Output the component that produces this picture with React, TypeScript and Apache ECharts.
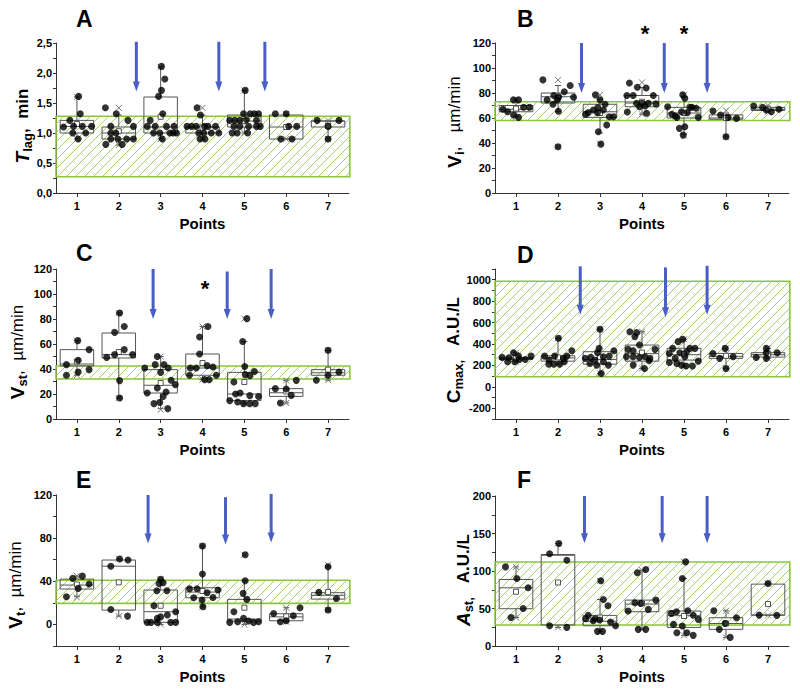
import React, { useEffect, useRef } from "react";
import * as echarts from "echarts";

const FONT = "'Liberation Sans', Arial, Helvetica, sans-serif";

// Sampling points on the x axis
const pointLabels = [1, 2, 3, 4, 5, 6, 7];

// Box statistics per sampling point:
// [q1, median, q3, mean, whiskerLow, whiskerHigh, min, max]
const tLagBoxes = [
  [1.0, 1.11, 1.21, 1.15, 0.9, 1.6, 0.9, 1.6],
  [0.9, 1.0, 1.1, 1.03, 0.8, 1.3, 0.8, 1.42],
  [1.0, 1.1, 1.6, 1.27, 0.9, 2.1, 0.9, 2.1],
  [1.0, 1.1, 1.1, 1.09, 0.9, 1.3, 0.9, 1.42],
  [1.1, 1.2, 1.3, 1.2, 1.0, 1.71, 1.0, 1.71],
  [0.9, 1.1, 1.3, 1.1, 0.9, 1.3, 0.9, 1.32],
  [1.1, 1.2, 1.2, 1.12, 0.9, 1.2, 0.9, 1.21],
];
const vIBoxes = [
  [65, 67, 70, 67.5, 61, 74.5, 60.5, 74.5],
  [72, 77, 80, 76, 65, 86, 37, 90.5],
  [60.5, 65, 71, 64, 48, 75, 39.5, 78.5],
  [69, 72, 78, 73, 63, 84.5, 63, 88.5],
  [60, 64, 68.5, 64, 47, 77, 46, 78.5],
  [59, 60, 62.5, 60, 45, 64, 45, 66],
  [66, 67, 68.5, 67, 65, 69.6, 65, 70],
];
const vStBoxes = [
  [42.5, 44, 55.5, 46, 35, 62.7, 35, 62.7],
  [48.8, 51.5, 68.8, 53.6, 16.8, 84.8, 16.8, 84.8],
  [20.8, 27, 39.5, 28.8, 8.3, 50, 7.5, 50],
  [35, 40.8, 52, 44.8, 31.5, 74, 31.5, 74],
  [14.7, 20, 37.3, 29.6, 12.3, 62, 12.3, 80.3],
  [18.1, 21, 24.3, 22, 12.8, 30.9, 12.8, 30.9],
  [35, 37, 39.5, 39.5, 31, 55, 31, 55],
];
const cMaxBoxes = [
  [256, 265, 275, 268, 234, 319, 234, 319],
  [240, 270, 290, 275, 212, 453, 212, 453],
  [212, 255, 328, 280, 125, 537, 125, 537],
  [240, 310, 390, 320, 172, 515, 172, 515],
  [250, 300, 360, 305, 194, 444, 194, 444],
  [266, 285, 312, 290, 172, 359, 172, 359],
  [278, 300, 319, 305, 266, 359, 266, 359],
];
const vTBoxes = [
  [32.8, 36.5, 42, 37, 25.7, 44.8, 25, 45],
  [13.3, 54, 59.7, 39, 7.7, 60.6, 7.7, 61],
  [1.9, 11.8, 31.9, 17.3, 0, 41.8, 0, 41.8],
  [24.7, 30, 34, 31, 16.4, 72.7, 16.4, 72.7],
  [3, 5, 23.2, 15.5, 0, 40.5, 0, 64.6],
  [3.4, 7, 9.9, 7.5, 2.5, 15.5, 2.5, 15.5],
  [23.5, 27, 29.4, 30, 13.3, 53.5, 13.3, 55],
];
const aStBoxes = [
  [49.7, 77.6, 88.7, 72.3, 38, 105.5, 38, 105.5],
  [28, 121, 122, 84.7, 24.8, 136.6, 24.8, 136.6],
  [27, 33, 40.8, 38, 19.5, 62, 19.5, 86.9],
  [45.7, 55.9, 61.2, 57, 22.2, 101, 22.2, 101],
  [24.8, 40.4, 46.6, 40, 14.2, 90, 14.2, 112.2],
  [22.2, 30, 37.7, 30, 11.5, 47, 11.5, 47],
  [41.2, 41.2, 82.5, 55.9, 40.8, 83.4, 40.8, 83.4],
];

// Individual measurements: [point, horizontal jitter, value]
const tLagPoints = [
  [1, -0.32, 1.1], [1, -0.17, 1.21], [1, 0.04, 1.61], [1, 0.08, 1.32], [1, -0.08, 1.11], [1, 0.13, 1.11], [1, 0.35, 1.11], [1, 0.21, 1.0], [1, 0.03, 0.9], [1, -0.1, 1.0],
  [2, -0.32, 1.42], [2, -0.06, 1.32], [2, 0.22, 1.21], [2, 0.35, 1.11], [2, -0.19, 1.11], [2, -0.31, 0.81], [2, -0.19, 1.0], [2, -0.07, 1.0], [2, 0.08, 0.81], [2, -0.19, 0.9], [2, -0.02, 0.9], [2, 0.19, 0.9], [2, 0.35, 0.9],
  [3, 0.02, 2.11], [3, 0.1, 1.9], [3, 0.02, 1.71], [3, -0.05, 1.61], [3, 0.05, 1.32], [3, -0.25, 1.21], [3, -0.32, 1.11], [3, -0.13, 1.11], [3, 0.14, 1.11], [3, 0.32, 1.11], [3, -0.17, 1.0], [3, -0.02, 1.0], [3, 0.22, 1.0], [3, 0.38, 1.0], [3, 0.04, 0.9], [3, 0.3, 1.0],
  [4, -0.13, 1.42], [4, -0.05, 1.3], [4, -0.37, 1.11], [4, -0.26, 1.11], [4, -0.15, 1.11], [4, 0.05, 1.11], [4, 0.13, 1.11], [4, 0.31, 1.11], [4, 0.03, 1.0], [4, 0.21, 1.0], [4, 0.39, 1.0], [4, -0.06, 0.9], [4, 0.06, 0.9], [4, -0.09, 1.0],
  [5, 0.02, 1.71], [5, -0.35, 1.21], [5, -0.23, 1.21], [5, -0.11, 1.21], [5, 0.05, 1.22], [5, -0.02, 1.32], [5, 0.14, 1.32], [5, 0.24, 1.32], [5, 0.34, 1.32], [5, -0.25, 1.11], [5, -0.11, 1.11], [5, 0.1, 1.11], [5, 0.29, 1.11], [5, 0.38, 1.11], [5, -0.29, 1.0], [5, -0.17, 1.0], [5, 0.08, 1.0], [5, 0.29, 1.21],
  [6, -0.26, 1.32], [6, 0, 1.32], [6, 0.06, 1.11], [6, 0.25, 1.11], [6, -0.13, 0.9], [6, 0.14, 0.9],
  [7, -0.26, 1.21], [7, 0.26, 1.21], [7, 0, 1.11], [7, 0, 0.9],
];
const vIPoints = [
  [1, -0.31, 67], [1, -0.2, 65], [1, -0.06, 74.5], [1, 0.06, 74.5], [1, -0.06, 62.4], [1, 0.06, 60.5], [1, 0.18, 68.6], [1, 0.32, 68.6],
  [2, -0.36, 90.5], [2, -0.26, 74.5], [2, -0.1, 78], [2, 0.02, 77], [2, 0.15, 81], [2, 0.29, 86], [2, 0.37, 76.6], [2, -0.02, 74.5], [2, -0.12, 71], [2, 0.01, 65.4], [2, 0, 37],
  [3, -0.34, 63], [3, -0.28, 64.3], [3, -0.16, 66.4], [3, -0.05, 68.3], [3, -0.11, 78.5], [3, 0, 74.5], [3, 0.08, 66.4], [3, 0.12, 71], [3, 0.22, 61], [3, 0.32, 61], [3, -0.04, 49], [3, 0.16, 54.4], [3, 0.02, 39.1], [3, -0.06, 64.3],
  [4, -0.3, 88], [4, -0.11, 84.6], [4, -0.36, 78], [4, -0.21, 78], [4, 0.27, 78], [4, 0.1, 84], [4, 0, 71.8], [4, -0.13, 71.8], [4, 0.15, 71.8], [4, 0.33, 71.3], [4, 0.07, 69.6], [4, 0.11, 63.8], [4, -0.06, 69], [4, -0.35, 64.8],
  [5, -0.39, 69], [5, -0.29, 63], [5, -0.17, 60.5], [5, -0.03, 78.5], [5, 0.02, 75.8], [5, -0.06, 65], [5, 0.08, 64.3], [5, 0.19, 68.6], [5, 0.29, 67.8], [5, 0.34, 60.5], [5, -0.11, 51.7], [5, 0.02, 53], [5, -0.02, 46.3], [5, -0.21, 61.6], [5, 0.14, 68.6],
  [6, -0.31, 65.6], [6, -0.13, 62.4], [6, 0.05, 60.5], [6, 0.25, 59.7], [6, 0, 45],
  [7, -0.34, 69.6], [7, -0.13, 68.6], [7, -0.04, 66.4], [7, 0.08, 65], [7, 0.26, 67],
];
const vStPoints = [
  [1, -0.25, 43.5], [1, 0.02, 62.7], [1, 0.29, 55.5], [1, 0.03, 47], [1, -0.25, 35], [1, 0.03, 37.6], [1, 0.29, 39.5],
  [2, 0.02, 84.8], [2, 0.13, 74], [2, -0.1, 69.3], [2, -0.1, 51.5], [2, 0.13, 55.5], [2, -0.29, 49.3], [2, 0.33, 51.5], [2, 0.02, 30.7], [2, 0.02, 16.8],
  [3, -0.08, 50], [3, -0.38, 40.8], [3, -0.13, 43.5], [3, 0.08, 43.5], [3, 0.18, 40.8], [3, 0, 37.3], [3, -0.32, 20.8], [3, -0.08, 24.8], [3, 0.13, 21.6], [3, 0.06, 18], [3, 0.25, 31], [3, 0.35, 27.5], [3, -0.16, 12.3], [3, -0.02, 13.3], [3, 0.17, 8.3],
  [4, 0.13, 74], [4, -0.07, 65.6], [4, -0.07, 52], [4, -0.29, 40.8], [4, -0.15, 40.8], [4, 0.11, 42.7], [4, 0.25, 41.6], [4, -0.31, 35], [4, 0.33, 35], [4, 0.05, 31.5], [4, 0.16, 31.5],
  [5, 0.06, 80.3], [5, -0.04, 62], [5, 0.01, 42], [5, 0.02, 35.5], [5, 0.13, 34.7], [5, 0.24, 38], [5, -0.25, 29.6], [5, -0.21, 20], [5, -0.35, 14.7], [5, -0.1, 20.8], [5, 0.13, 18.7], [5, 0.34, 18], [5, -0.16, 13.6], [5, -0.02, 12.3], [5, 0.13, 12.3], [5, 0.26, 12.3],
  [6, -0.26, 24.3], [6, 0, 24], [6, 0.24, 30.9], [6, 0.12, 18.9], [6, -0.14, 12.8],
  [7, 0, 55], [7, -0.28, 31], [7, 0, 35], [7, 0.26, 37.6],
];
const cMaxPoints = [
  [1, -0.33, 275], [1, -0.17, 272], [1, -0.06, 319], [1, -0.03, 234], [1, 0.08, 256], [1, 0.06, 287], [1, 0.22, 256], [1, 0.36, 287], [1, -0.2, 234],
  [2, -0.32, 287], [2, -0.21, 250], [2, -0.08, 287], [2, 0.01, 453], [2, 0.13, 266], [2, 0.21, 287], [2, 0.33, 337], [2, -0.22, 212], [2, -0.1, 212], [2, 0.04, 212], [2, 0.15, 234],
  [3, 0, 537], [3, -0.02, 359], [3, -0.06, 319], [3, -0.35, 266], [3, -0.22, 275], [3, -0.12, 250], [3, 0.08, 281], [3, 0.22, 287], [3, 0.33, 337], [3, -0.24, 219], [3, -0.08, 203], [3, 0.08, 234], [3, 0.2, 203], [3, 0.03, 125],
  [4, -0.29, 515], [4, -0.13, 506], [4, -0.17, 469], [4, -0.21, 337], [4, -0.33, 350], [4, -0.06, 390], [4, -0.37, 281], [4, -0.21, 281], [4, -0.06, 275], [4, 0.07, 281], [4, 0.19, 266], [4, 0.31, 350], [4, -0.21, 203], [4, 0.17, 244], [4, 0.06, 172],
  [5, -0.27, 359], [5, -0.14, 422], [5, -0.03, 444], [5, -0.35, 312], [5, -0.1, 319], [5, 0.02, 281], [5, 0.14, 359], [5, 0.26, 359], [5, -0.21, 266], [5, 0.06, 328], [5, -0.35, 228], [5, -0.06, 203], [5, 0.05, 194], [5, 0.2, 194], [5, 0.34, 240], [5, -0.17, 219],
  [6, -0.31, 312], [6, -0.02, 359], [6, -0.15, 266], [6, 0.17, 281], [6, 0, 172],
  [7, -0.28, 275], [7, -0.04, 359], [7, -0.04, 319], [7, -0.04, 266], [7, 0.22, 319],
];
const vTPoints = [
  [1, -0.25, 25.7], [1, -0.1, 42.7], [1, 0.13, 44.8], [1, 0.03, 33.4], [1, 0.29, 37.4],
  [2, -0.19, 54], [2, 0.02, 60.6], [2, 0.22, 59.7], [2, -0.19, 13.9], [2, 0.21, 7.7],
  [3, 0, 41.8], [3, -0.04, 38], [3, 0.06, 38.7], [3, -0.09, 31.2], [3, 0.15, 31.2], [3, -0.16, 17.3], [3, 0.36, 11.8], [3, 0.16, 8.7], [3, 0, 7], [3, -0.08, 5.6], [3, -0.32, 1.9], [3, -0.23, 1.9], [3, 0.24, 1.9], [3, 0.36, 1.9], [3, -0.08, 1.9],
  [4, 0, 72.7], [4, 0, 46.7], [4, -0.31, 33], [4, -0.13, 33], [4, -0.21, 24.7], [4, -0.01, 22.6], [4, 0.11, 29.4], [4, 0.25, 25], [4, 0.37, 31.9], [4, 0.01, 16.4],
  [5, 0.02, 64.6], [5, 0.02, 40.5], [5, -0.03, 28.8], [5, 0.06, 23.2], [5, -0.25, 11.8], [5, -0.35, 1.9], [5, -0.16, 2.5], [5, -0.02, 5.6], [5, 0.1, 3.1], [5, 0.22, 1.9], [5, 0.34, 2.5],
  [6, -0.3, 10.2], [6, -0.14, 2.5], [6, 0, 3.4], [6, 0.17, 8], [6, 0.33, 15.5],
  [7, 0, 53.5], [7, -0.22, 29.7], [7, 0.2, 24.1], [7, 0, 13.3],
];
const aStPoints = [
  [1, -0.25, 105.5], [1, 0.02, 90], [1, 0.29, 77.6], [1, 0.17, 50], [1, -0.12, 38],
  [2, -0.2, 123], [2, 0.02, 136.6], [2, 0.21, 114.4], [2, -0.2, 27], [2, 0.21, 24.8],
  [3, 0.02, 86.9], [3, 0.08, 62], [3, 0.19, 53.7], [3, -0.34, 36.4], [3, -0.28, 40.8], [3, -0.16, 33.7], [3, -0.01, 34.6], [3, -0.12, 36.4], [3, 0.25, 32], [3, 0.37, 27], [3, -0.06, 19.5], [3, 0.06, 19.5],
  [4, -0.11, 97.6], [4, 0.09, 102], [4, -0.33, 46.6], [4, -0.17, 57.6], [4, -0.03, 56.8], [4, 0.15, 48.8], [4, 0.33, 61.2], [4, -0.09, 22.2], [4, 0.09, 22.2],
  [5, 0.04, 112.2], [5, -0.04, 90], [5, -0.3, 43.5], [5, -0.18, 45.7], [5, 0.09, 47], [5, 0.22, 41], [5, 0.34, 35.5], [5, -0.25, 28.8], [5, -0.04, 26.6], [5, -0.17, 17.7], [5, 0.07, 17.7], [5, 0.22, 14.2],
  [6, -0.29, 47], [6, -0.02, 30.2], [6, -0.16, 22.2], [6, 0.25, 37.7], [6, 0.1, 11.5],
  [7, 0, 83.4], [7, -0.21, 41.2], [7, 0.21, 40.8],
];

// Reference (normal) ranges: [low, high]
const tLagNorm = [0.27, 1.28];
const vINorm = [58, 73];
const vStNorm = [32, 42.4];
const cMaxNorm = [95, 985];
const vTNorm = [19.5, 41];
const aStNorm = [28, 112];

// Intervention arrows: [x, top value, tip value]
const tLagArrows = [[2.42, 2.52, 1.69], [4.39, 2.52, 1.69], [5.49, 2.52, 1.69]];
const vIArrows = [[2.56, 120, 80], [4.53, 120, 80], [5.55, 120, 80]];
const vStArrows = [[2.82, 120, 80], [4.59, 118, 80], [5.64, 120, 80]];
const cMaxArrows = [[2.53, 1125, 672], [4.56, 1115, 650], [5.55, 1130, 672]];
const vTArrows = [[2.7, 120, 75], [4.55, 118, 74], [5.64, 121, 76]];
const aStArrows = [[2.63, 200, 137], [4.48, 200, 137], [5.55, 200, 137]];

// Significance marks: [x, value]
const vIStars = [[4.07, 129], [5.0, 129]];
const vStStars = [[4.06, 106]];

const BOX_COLOR = "#555";
const HATCH_COLOR = "#a3d06a";
const BORDER_COLOR = "#8cc63f";
const ARROW_COLOR = "#4a5ec6";

const main = (italic: boolean) => ({ fontSize: 19, fontWeight: "bold", fontStyle: italic ? "italic" : "normal", fontFamily: FONT, fill: "#000" });
const sub = { fontSize: 13, fontWeight: "bold", fontFamily: FONT, fill: "#000", verticalAlign: "bottom", padding: [10, 0, 0, 0] };
const unit = (bold: boolean) => ({ fontSize: 17, fontWeight: bold ? "bold" : "normal", fontFamily: FONT, fill: "#000" });

const panels = [
  {
    letter: "A", boxes: tLagBoxes, points: tLagPoints, norm: tLagNorm, arrows: tLagArrows, stars: [],
    min: 0, max: 2.5, step: 0.5, comma: true,
    grid: { left: 56, top: 43, width: 293, height: 150 }, title: { left: 76, top: 7 },
    name: "{m|T}{s|lag}{u|,  min}", rich: { m: main(true), s: sub, u: unit(true) }, nameAt: [22, 126],
  },
  {
    letter: "B", boxes: vIBoxes, points: vIPoints, norm: vINorm, arrows: vIArrows, stars: vIStars,
    min: 0, max: 120, step: 20,
    grid: { left: 495, top: 43, width: 294, height: 150 }, title: { left: 517, top: 7 },
    name: "{m|V}{s|i}{u|,   µm/min}", rich: { m: main(false), s: sub, u: unit(false) }, nameAt: [454, 122],
  },
  {
    letter: "C", boxes: vStBoxes, points: vStPoints, norm: vStNorm, arrows: vStArrows, stars: vStStars,
    min: 0, max: 120, step: 20,
    grid: { left: 56, top: 269, width: 293, height: 150 }, title: { left: 76, top: 241 },
    name: "{m|V}{s|st}{u|,  µm/min}", rich: { m: main(false), s: sub, u: unit(false) }, nameAt: [17, 352],
  },
  {
    letter: "D", boxes: cMaxBoxes, points: cMaxPoints, norm: cMaxNorm, arrows: cMaxArrows, stars: [],
    min: -300, max: 1100, step: 200,
    grid: { left: 495, top: 269, width: 294, height: 150 }, title: { left: 517, top: 243 },
    name: "{m|C}{s|max,}{u|   A.U./L}", rich: { m: main(false), s: sub, u: unit(true) }, nameAt: [453, 350],
  },
  {
    letter: "E", boxes: vTBoxes, points: vTPoints, norm: vTNorm, arrows: vTArrows, stars: [],
    min: -20, max: 120, step: 40,
    grid: { left: 56, top: 495, width: 293, height: 151 }, title: { left: 76, top: 468 },
    name: "{m|V}{s|t}{u|,  µm/min}", rich: { m: main(false), s: sub, u: unit(false) }, nameAt: [15, 585],
  },
  {
    letter: "F", boxes: aStBoxes, points: aStPoints, norm: aStNorm, arrows: aStArrows, stars: [],
    min: 0, max: 200, step: 50,
    grid: { left: 495, top: 496, width: 294, height: 150 }, title: { left: 517, top: 468 },
    name: "{m|A}{s|st,}{u|   A.U./L}", rich: { m: main(true), s: sub, u: unit(true) }, nameAt: [463, 580],
  },
];

const isMultiple = (v: number, step: number) => Math.abs(v / step - Math.round(v / step)) < 1e-6;

function hatch(x0: number, y0: number, x1: number, y1: number, gap: number) {
  const out: any[] = [];
  const start = Math.ceil((x0 + y0) / gap) * gap;
  for (let k = start; k <= x1 + y1; k += gap) {
    const lo = Math.max(x0, k - y1);
    const hi = Math.min(x1, k - y0);
    if (hi > lo) {
      out.push({ type: "line", silent: true, shape: { x1: lo, y1: k - lo, x2: hi, y2: k - hi }, style: { stroke: HATCH_COLOR, lineWidth: 1 } });
    }
  }
  return out;
}

function buildOption() {
  const grid: any[] = [];
  const xAxis: any[] = [];
  const yAxis: any[] = [];
  const title: any[] = [];
  const series: any[] = [];
  const graphic: any[] = [];

  panels.forEach((p, i) => {
    grid.push({ ...p.grid, outerBoundsMode: "none", containLabel: false });
    title.push({
      text: p.letter, left: p.title.left, top: p.title.top, padding: 0,
      textStyle: { fontSize: 23, fontWeight: "bold", fontFamily: FONT, color: "#000" },
    });
    // vertical axis title, reading bottom to top
    graphic.push({
      type: "text", x: p.nameAt[0], y: p.nameAt[1], rotation: Math.PI / 2, silent: true,
      style: { text: p.name, rich: p.rich, fontSize: 17, fontWeight: "bold", fontFamily: FONT, fill: "#000", align: "center", verticalAlign: "middle" },
    });
    xAxis.push({
      type: "value", gridIndex: i, min: 0.5, max: 7.5,
      name: "Points", nameLocation: "middle", nameGap: 23,
      nameTextStyle: { fontSize: 15, fontWeight: "bold", fontFamily: FONT, color: "#000" },
      axisLine: { onZero: false, lineStyle: { color: "#333", width: 1 } },
      axisTick: { customValues: pointLabels, length: 4, lineStyle: { color: "#333" } },
      axisLabel: { customValues: pointLabels, margin: 7, fontSize: 11, fontWeight: "bold", fontFamily: FONT, color: "#000" },
      splitLine: { show: false },
    });
    yAxis.push({
      type: "value", gridIndex: i, min: p.min, max: p.max, interval: p.step / 2,
      axisLine: { show: true, onZero: false, lineStyle: { color: "#333", width: 1 } },
      axisTick: { show: true, length: 3, lineStyle: { color: "#333" } },
      axisLabel: {
        margin: 4, fontSize: 11, fontWeight: "bold", fontFamily: FONT, color: "#000",
        formatter: (v: number) => {
          if (!isMultiple(v, p.step)) return "";
          return p.comma ? v.toFixed(1).replace(".", ",") : String(Math.round(v));
        },
      },
      splitLine: { show: false },
    });

    // hatched normal range
    series.push({
      type: "custom", xAxisIndex: i, yAxisIndex: i, z: 1, silent: true,
      data: [[0.5, 7.52, p.norm[0], p.norm[1]]],
      renderItem: (_: any, api: any) => {
        const a = api.coord([api.value(0), api.value(3)]);
        const b = api.coord([api.value(1), api.value(2)]);
        const children = hatch(a[0], a[1], b[0], b[1], 9);
        children.push({
          type: "rect", shape: { x: a[0], y: a[1], width: b[0] - a[0], height: b[1] - a[1] },
          style: { fill: "none", stroke: BORDER_COLOR, lineWidth: 1.6 },
        });
        return { type: "group", children };
      },
    });

    // box plots
    series.push({
      type: "custom", xAxisIndex: i, yAxisIndex: i, z: 2, silent: true,
      data: p.boxes.map((b, k) => [pointLabels[k], ...b]),
      renderItem: (_: any, api: any) => {
        const c = api.value(0);
        const y = (d: number) => api.coord([c, api.value(d)])[1];
        const cx = api.coord([c, 0])[0];
        const xl = api.coord([c - 0.4, 0])[0];
        const xr = api.coord([c + 0.4, 0])[0];
        const st = { stroke: BOX_COLOR, lineWidth: 1, fill: "none" };
        const q1 = y(1), med = y(2), q3 = y(3), mean = y(4), wl = y(5), wh = y(6), mn = y(7), mx = y(8);
        const cross = (yy: number) => [
          { type: "line", shape: { x1: cx - 3, y1: yy - 3, x2: cx + 3, y2: yy + 3 }, style: { stroke: "#777", lineWidth: 1 } },
          { type: "line", shape: { x1: cx - 3, y1: yy + 3, x2: cx + 3, y2: yy - 3 }, style: { stroke: "#777", lineWidth: 1 } },
        ];
        return {
          type: "group",
          children: [
            { type: "line", shape: { x1: cx, y1: q3, x2: cx, y2: wh }, style: st },
            { type: "line", shape: { x1: cx, y1: q1, x2: cx, y2: wl }, style: st },
            { type: "line", shape: { x1: cx - 3, y1: wh, x2: cx + 3, y2: wh }, style: st },
            { type: "line", shape: { x1: cx - 3, y1: wl, x2: cx + 3, y2: wl }, style: st },
            { type: "rect", shape: { x: xl, y: q3, width: xr - xl, height: q1 - q3 }, style: st },
            { type: "line", shape: { x1: xl, y1: med, x2: xr, y2: med }, style: st },
            { type: "rect", shape: { x: cx - 2.5, y: mean - 2.5, width: 5, height: 5 }, style: { stroke: BOX_COLOR, lineWidth: 1, fill: "#fff" } },
            ...cross(mn),
            ...cross(mx),
          ],
        };
      },
    });

    // individual measurements
    series.push({
      type: "scatter", xAxisIndex: i, yAxisIndex: i, z: 3, silent: true,
      symbol: "circle", symbolSize: 7,
      itemStyle: { color: "#000" },
      data: p.points.map(([c, dx, v]) => [c + dx, v]),
    });

    // arrows
    series.push({
      type: "custom", xAxisIndex: i, yAxisIndex: i, z: 4, silent: true,
      data: p.arrows,
      renderItem: (_: any, api: any) => {
        const t = api.coord([api.value(0), api.value(1)]);
        const b = api.coord([api.value(0), api.value(2)]);
        return {
          type: "group",
          children: [
            { type: "line", shape: { x1: t[0], y1: t[1], x2: b[0], y2: b[1] - 8 }, style: { stroke: ARROW_COLOR, lineWidth: 3 } },
            { type: "polygon", shape: { points: [[b[0] - 3.5, b[1] - 10], [b[0] + 3.5, b[1] - 10], [b[0], b[1]]] }, style: { fill: ARROW_COLOR } },
          ],
        };
      },
    });

    if (p.stars.length) {
      series.push({
        type: "custom", xAxisIndex: i, yAxisIndex: i, z: 4, silent: true,
        data: p.stars,
        renderItem: (_: any, api: any) => {
          const pt = api.coord([api.value(0), api.value(1)]);
          return {
            type: "text", x: pt[0], y: pt[1] + 2,
            style: { text: "*", fill: "#000", font: `bold 22px ${FONT}`, align: "center", verticalAlign: "middle" },
          };
        },
      });
    }
  });

  return { animation: false, backgroundColor: "#fff", title, grid, xAxis, yAxis, series, graphic };
}

export default function App() {
  const ref = useRef<HTMLDivElement>(null);
  useEffect(() => {
    if (!ref.current) return;
    const chart = echarts.init(ref.current, undefined, { renderer: "svg" });
    chart.setOption(buildOption() as any);
    return () => chart.dispose();
  }, []);
  return (
    <div
      ref={ref}
      style={{ position: "fixed", left: 0, top: 0, width: 800, height: 693, background: "#fff" }}
    />
  );
}
